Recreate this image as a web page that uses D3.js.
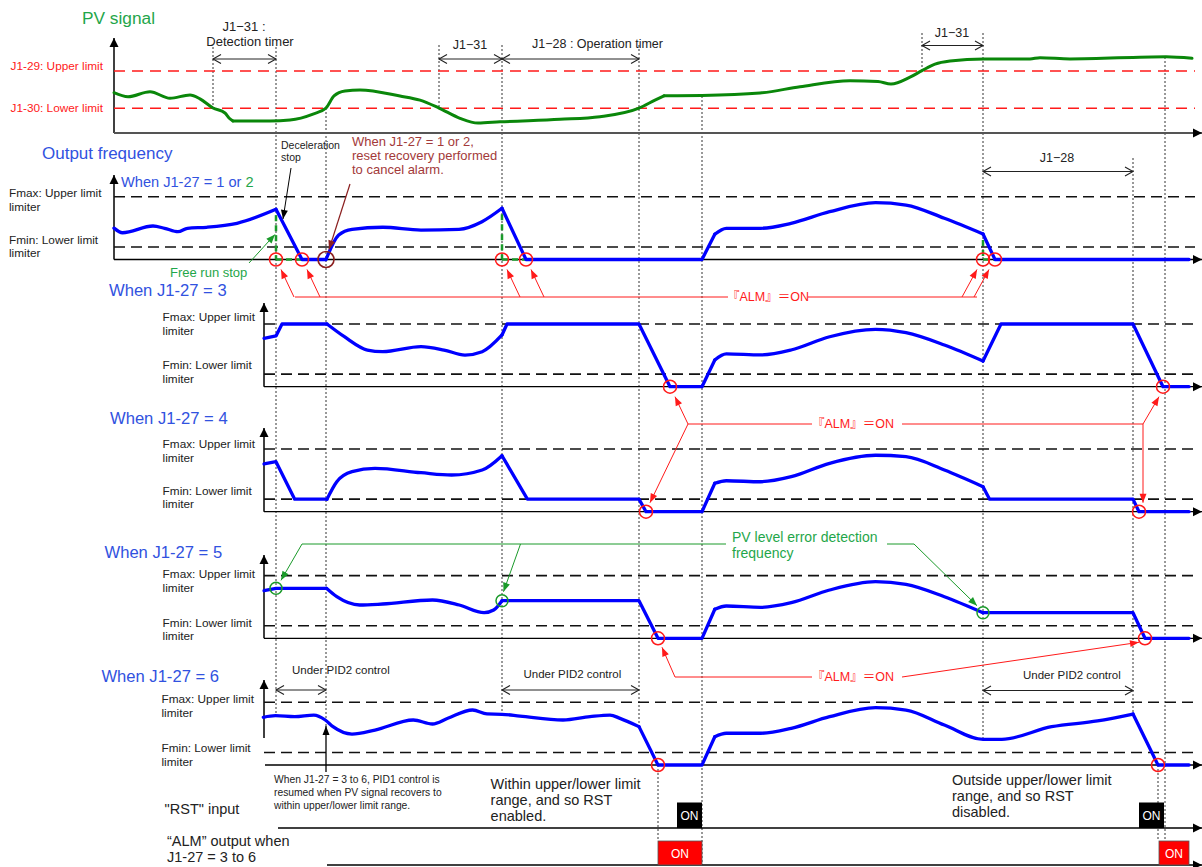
<!DOCTYPE html>
<html><head><meta charset="utf-8">
<script src="https://cdn.jsdelivr.net/npm/d3@7"></script>
<style>
body{margin:0;background:#fff}
svg{display:block}
text{font-family:"Liberation Sans",Arial,"Noto Sans CJK JP",sans-serif}
</style>
</head><body>
<svg id="c" width="1202" height="867"></svg>
<script>
// ================= DATA (time units, signal in %) =================
const timeDomain = [0, 1081];
// tA..tK : key instants of the sequence
const eventTimes = [99, 162, 212, 325, 388, 525, 588, 808, 869, 1019, 1051];
const pvLimitValues = [100, 40];      // J1-29 upper, J1-30 lower
const freqLimitValues = [100, 20];    // Fmax, Fmin
const pvLimitLabels = ["J1-29: Upper limit", "J1-30: Lower limit"];
const panelTitles = ["When J1-27 = 3", "When J1-27 = 4", "When J1-27 = 5", "When J1-27 = 6"];

const pvSignal = [
  ["S", [[0,65],[14,58.5],[36,66.6],[56,56],[76,61.3],[86,55],[99,40.3],[111,32.3],[115,24.2],[119,19.4]]],
  ["S", [[119,19.4],[156,19.4],[176,21],[199,30.6],[212,40.3],[220,59.7],[231,67.7],[246,69.4],[286,59.7],[306,53],[325,40.3],[346,23.7],[364,16],[386,18],[446,22],[486,26.3],[525,40],[541,53],[550,60]]],
  ["S", [[550,60],[588,60.5],[646,64.5],[686,74.7],[736,84.4],[764,83],[777,79],[796,90],[808,100.5],[821,111],[836,116],[870,119.4],[916,119.4],[926,121.5],[956,119.4],[1052,123],[1078,120.5]]]
];
const freq12 = [
  ["S", [[0,50],[8.5,42.7],[39,53.4],[50.6,49.8],[64,44.3],[73.5,49.8],[92.7,51.4],[123,57.7],[162,80]]],
  ["L", [[162,80],[188,0],[212,0]]],
  ["S", [[212,0],[224.7,39],[238,48.2],[268.7,51.4],[307,47],[345,48.2],[368,60.3],[388,81.7]]],
  ["L", [[388,81.7],[412,0],[588,0],[600.8,40.2]]],
  ["S", [[600.8,40.2],[612.3,49.8],[646.7,49.8],[677,57.7],[715.6,76.2],[761.5,90.6],[792,86.9],[830.4,65.7],[869,40.7]]],
  ["L", [[869,40.7],[881,0],[1075,0]]]
];
const freq3 = [
  ["L", [[150,77.2],[162,80.9],[168,100],[213,100]]],
  ["S", [[213,100],[230.4,79.7],[253.4,58.5],[268.7,55.8],[307,63.8],[330,58.5],[351,50.5],[368.2,55.8],[388,82.5]]],
  ["L", [[388,82.5],[393,100],[525,100],[556,0],[588,0],[600.8,42.6]]],
  ["S", [[600.8,42.6],[612.3,52.2],[646.7,50.6],[677,58.5],[715.6,79.7],[761.5,91.5],[792,86.1],[830.4,66.5],[869,41]]],
  ["L", [[869,41],[887,100],[1019,100],[1049,0],[1075,0]]]
];
const freq4 = [
  ["L", [[150,76.1],[162,79.7],[180.7,20],[213,20]]],
  ["S", [[213,20],[222.8,47.8],[238,63.8],[261,69.2],[307,62.2],[337.6,58.5],[368.2,66.5],[388,89.3]]],
  ["L", [[388,89.3],[413.4,20],[525,20],[532,0],[588,0],[600.8,45.3]]],
  ["S", [[600.8,45.3],[612.3,49.4],[646.7,47.8],[677.3,55.8],[715.6,77.2],[761.5,90],[792,87.7],[830.4,66.5],[869,39.9]]],
  ["L", [[869,39.9],[875.6,20],[1019,20],[1025,0],[1075,0]]]
];
const freq5 = [
  ["L", [[150,75.9],[162,79.7],[212.4,79.7]]],
  ["S", [[212.4,79.7],[222.8,66.3],[245.7,53.1],[268.7,54.7],[318.5,61.1],[345.2,53.1],[370.1,40.8],[379.7,45.1],[388,60]]],
  ["L", [[388,60],[525,60],[544,0],[588,0],[600.8,46.3]]],
  ["S", [[600.8,46.3],[612.3,51.5],[646.7,49.4],[677.3,56.8],[715.6,77],[761.5,90.3],[792,86.1],[830.4,66.3],[869,40.8]]],
  ["L", [[869,40.8],[1019,40.8],[1031,0],[1075,0]]]
];
const freq6 = [
  ["S", [[149.3,76.1],[161.5,78.6],[180.7,77],[199.8,79.7],[211.3,71.8],[219,61.1],[238,49.4],[261,55.8],[299.3,71.8],[318.5,65.4],[333.8,74.5],[358.6,87.7],[373,81.5],[388,80.9],[406,78.1],[449,71.8],[476,77.2],[496,79.7],[506,74.4],[525,61.2]]],
  ["L", [[525,61.2],[544,0],[588,0],[600.8,45.1]]],
  ["S", [[600.8,45.1],[612.3,50.6],[646.7,50.6],[677.3,58.5],[715.6,77],[761.5,91.4],[792,87.7],[830.4,63.8],[869,41],[887.8,41],[937.6,61.1],[983.5,70.2],[1019,81.3]]],
  ["L", [[1019,81.3],[1044,0],[1075,0]]]
];
const alarms12 = [[162,0],[188,0],[388,0],[412,0],[869,0],[881,0]];
const reset12 = [[212,0]];
const alarms3 = [[556,0],[1049,0]];
const alarms4 = [[532,0],[1025,0]];
const alarms5 = [[544,0],[1031,0]];
const detect5 = [[162,79.7],[388,60],[869,40.8]];
const alarms6 = [[544,0],[1044,0]];
const rstPulses = [[563,588],[1025,1050]];
const almPulses = [[544,588],[1045,1075]];

// ================= LAYOUT =================
const svg = d3.select("#c");
const x = d3.scaleLinear().domain(timeDomain).range([114, 1195]);
const pvY = d3.scaleLinear().domain([0,100]).range([133, 71]);
const axisYs = [259.5, 386.7, 511.7, 638.3, 765];
const fy = axisYs.map(a => d3.scaleLinear().domain([0,100]).range([a, a-62.7]));
const BLUE_T = "#3152e0", GREEN_T = "#1fa64a", RED = "#ff1a1a", DRED = "#a33a3a", INK = "#222";

const defs = svg.append("defs");
function marker(id, color, w, h, open){
  const m = defs.append("marker").attr("id", id).attr("viewBox", `0 0 ${w} ${h}`)
    .attr("refX", w).attr("refY", h/2).attr("markerWidth", w).attr("markerHeight", h)
    .attr("markerUnits","userSpaceOnUse").attr("orient","auto-start-reverse").style("overflow","visible");
  if(open) m.append("path").attr("d",`M0,0 L${w},${h/2} L0,${h}`).attr("fill","none").attr("stroke",color).attr("stroke-width",1.1);
  else m.append("path").attr("d",`M0,0 L${w},${h/2} L0,${h}Z`).attr("fill",color);
}
marker("ax","#000",9,9,false);
marker("ah-red",RED,9,7,false);
marker("ah-green","#1a9a2a",9,7,false);
marker("ah-black","#000",9,7,false);
marker("ah-dred","#8b1f1f",9,7,false);
marker("open","#222",8,9,true);

const g = svg.append("g");
function line(x1,y1,x2,y2,stroke,w,dash){
  const l = g.append("line").attr("x1",x1).attr("y1",y1).attr("x2",x2).attr("y2",y2)
    .attr("stroke",stroke).attr("stroke-width",w);
  if(dash) l.attr("stroke-dasharray",dash);
  return l;
}
function arrow(x1,y1,x2,y2,id,stroke,w){
  return line(x1,y1,x2,y2,stroke,w||1).attr("marker-end",`url(#${id})`);
}
function text(xx,yy,s,size,color,anchor){
  return g.append("text").attr("x",xx).attr("y",yy).attr("dy","0.35em").attr("font-size",size)
    .attr("fill",color||INK).attr("text-anchor",anchor||"start").text(s);
}
function timer(t1,t2,yy){
  line(x(t1),yy,x(t2),yy,"#222",1).attr("marker-start","url(#open)").attr("marker-end","url(#open)");
}
function curve(pieces, yS, color, w){
  pieces.forEach(([k,pts]) => {
    const gen = d3.line().x(d=>x(d[0])).y(d=>yS(d[1])).curve(k==="S"?d3.curveMonotoneX:d3.curveLinear);
    g.append("path").attr("d",gen(pts)).attr("fill","none").attr("stroke",color)
      .attr("stroke-width",w).attr("stroke-linejoin","round").attr("stroke-linecap","round");
  });
}
function circles(pts, yS, color, r, w){
  pts.forEach(d => g.append("circle").attr("cx",x(d[0])).attr("cy",yS(d[1])).attr("r",r)
    .attr("fill","none").attr("stroke",color).attr("stroke-width",w||1.5));
}

// ---------- guide (dotted) lines ----------
const [tA,tB,tC,tD,tE,tF,tG,tH,tI,tJ,tK] = eventTimes;
const guideSpans = [[tA,47,108],[tB,47,715],[tC,108,732],[tD,45,108],[tE,45,715],[tF,45,727],
  [tG,96,865],[tH,33,71],[tI,33,739],[tJ,158,714],[tK,57,865]];
guideSpans.forEach(([t,a,b]) => line(x(t),a,x(t),b,"#333",1,"2,2"));
[alarms6[0][0], alarms6[1][0]].forEach(t => line(x(t),765,x(t),841,"#333",1,"2,2"));

// ---------- PV panel ----------
text(82,18,"PV signal",17.3,GREEN_T);
line(114,133,114,38,"#000",1.5).attr("marker-end","url(#ax)");
line(114,133,1202,133,"#555",2).attr("marker-end","url(#ax)");
pvLimitValues.forEach((v,i) => {
  line(114,pvY(v),1195,pvY(v),RED,1.6,"11,7");
  text(103, i===0 ? pvY(v)-5 : pvY(v), pvLimitLabels[i], 11.8, RED, "end");
});
curve(pvSignal, pvY, "#0a870a", 3);
timer(tA,tB,59); timer(tD,tE,59); timer(tE,tF,59); timer(tH,tI,45.5);
text(244,26,"J1−31 :",13,INK,"middle");
text(250,41,"Detection timer",13,INK,"middle");
text(470,45,"J1−31",12.5,INK,"middle");
text(532,44,"J1−28 : Operation timer",12.5,INK);
text(952,33,"J1−31",12.5,INK,"middle");

// ---------- Output frequency panel (J1-27 = 1 or 2) ----------
text(42,153,"Output frequency",17,BLUE_T);
const sub = g.append("text").attr("x",121).attr("y",182).attr("dy","0.35em").attr("font-size",14.6).attr("fill",BLUE_T);
sub.append("tspan").text("When J1-27 = 1 or ");
sub.append("tspan").attr("fill",GREEN_T).text("2");

function limits(i, x0, lx, ly){
  freqLimitValues.forEach(v => line(x0, fy[i](v), 1195, fy[i](v), "#111", 1.6, "11,6"));
  text(lx, ly[0], "Fmax: Upper limit", 11.8);
  text(lx, ly[1], "limiter", 11.8);
  text(lx, ly[2], "Fmin: Lower limit", 11.8);
  text(lx, ly[3], "limiter", 11.8);
}
line(114,axisYs[0],114,175,"#000",1.5).attr("marker-end","url(#ax)");
line(114,axisYs[0],1202,axisYs[0],"#000",1.3).attr("marker-end","url(#ax)");
limits(0,114,9,[193,206.5,240,253]);
timer(tI,tJ,171.5);
text(1057,158,"J1−28",12.5,INK,"middle");
// free-run (green dashed)
[[tB,80],[tE,81.7],[tI,40.7]].forEach(([t,v]) => {
  line(x(t),fy[0](v)+6,x(t),fy[0](0),"#1a9a2a",2.5,"6,4");
});
[[tB,188],[tE,412],[tI,881]].forEach(([a,b]) => line(x(a),fy[0](0),x(b),fy[0](0),"#1a9a2a",2.5,"6,4"));
curve(freq12, fy[0], "#0000ff", 3.3);
circles(alarms12, fy[0], RED, 6.5);
circles(reset12, fy[0], "#8b1f1f", 8, 1.6);
text(281,145,"Deceleration",10.5);
text(281,157,"stop",10.5);
arrow(291,168,283,219,"ah-black","#000",1);
text(352,141,"When J1-27 = 1 or 2,",13,DRED);
text(352,155,"reset recovery performed",13,DRED);
text(352,169,"to cancel alarm.",13,DRED);
arrow(350,184,x(tC)+3,fy[0](0)-10,"ah-dred","#8b1f1f",1.2);
text(170,272,"Free run stop",13,GREEN_T);
arrow(249,263,x(tB)-1,fy[0](40),"ah-green","#1a9a2a",1);
// ALM = ON (panel 1)
const yA1 = 297;
line(x(alarms12[0][0])+19,yA1,728,yA1,RED,1);
line(808,yA1,x(alarms12[5][0])-18,yA1,RED,1);
text(768,yA1,"『ALM』＝ON",12.5,RED,"middle");
alarms12.slice(0,4).forEach(d => arrow(x(d[0])+18,yA1,x(d[0])+5,fy[0](0)+10,"ah-red",RED,1));
alarms12.slice(4).forEach(d => arrow(x(d[0])-21,yA1,x(d[0])-6,fy[0](0)+10,"ah-red",RED,1));

// ---------- panels 2..5 ----------
const titlePos = [[109,290],[110,418],[104.5,552],[101.4,676]];
const labelYs = [[316.7,331,365,379],[444,457.7,491,504.3],[574,588.3,623.3,636],[699.3,712.7,748.3,761.7]];
const tops = [303,428,555,680];
for(let k=0;k<4;k++){
  const i = k+1;
  text(titlePos[k][0],titlePos[k][1],panelTitles[k],16.6,BLUE_T);
  const yBottom = k===3 ? 738 : axisYs[i];
  line(x(150),yBottom,x(150),tops[k],"#000",1.5).attr("marker-end","url(#ax)");
  line(x(150)+(k===3?1:0),axisYs[i],1202,axisYs[i],"#000",1.3).attr("marker-end","url(#ax)");
  limits(i, x(150), k===3?161.5:162.6, labelYs[k]);
}
curve(freq3, fy[1], "#0000ff", 3.3);
curve(freq4, fy[2], "#0000ff", 3.3);
curve(freq5, fy[3], "#0000ff", 3.3);
curve(freq6, fy[4], "#0000ff", 3.3);
circles(alarms3, fy[1], RED, 6.5);
circles(alarms4, fy[2], RED, 6.5);
circles(alarms5, fy[3], RED, 6.5);
circles(detect5, fy[3], "#1a9a2a", 6);
circles(alarms6, fy[4], RED, 6.5);

// ALM = ON (panels 3 / 4)
const yA2 = 424;
line(688,yA2,812,yA2,RED,1);
line(902,yA2,x(alarms4[1][0])+4,yA2,RED,1);
text(853,yA2,"『ALM』＝ON",12.5,RED,"middle");
arrow(688,yA2,x(alarms3[0][0])+5,fy[1](0)+10,"ah-red",RED,1);
arrow(688,yA2,x(alarms4[0][0])+4,fy[2](0)-9,"ah-red",RED,1);
arrow(x(alarms4[1][0])+4,yA2,x(alarms3[1][0])-4,fy[1](0)+10,"ah-red",RED,1);
arrow(x(alarms4[1][0])+4,yA2,x(alarms4[1][0])+4,fy[2](0)-9,"ah-red",RED,1);

// PV level error detection frequency (panel 5)
const yG = 544;
line(302,yG,726,yG,"#1a9a2a",1);
line(887,yG,914,yG,"#1a9a2a",1);
text(732,537,"PV level error detection",14,GREEN_T);
text(732,553,"frequency",14,GREEN_T);
arrow(302,yG,x(detect5[0][0])+5,fy[3](detect5[0][1])-8,"ah-green","#1a9a2a",1);
arrow(520.5,yG,x(detect5[1][0])+1.5,fy[3](detect5[1][1])-9,"ah-green","#1a9a2a",1);
arrow(914,yG,x(detect5[2][0])-6,fy[3](detect5[2][1])-7,"ah-green","#1a9a2a",1);

// ALM = ON (panels 5 / 6)
const yA3 = 677;
line(675,yA3,812,yA3,RED,1);
text(853,yA3,"『ALM』＝ON",12.5,RED,"middle");
arrow(675,yA3,x(alarms5[0][0])+4,fy[3](0)+9,"ah-red",RED,1);
arrow(902,yA3,x(alarms5[1][0])-6,fy[3](0)+4,"ah-red",RED,1);

// ---------- J1-27 = 6 annotations ----------
timer(tB,tC,690); timer(tE,tF,690); timer(tI,tJ,690.5);
text(292,670,"Under PID2 control",11.5);
text(523.5,674,"Under PID2 control",11.5);
text(1023,675,"Under PID2 control",11.5);
arrow(x(tC),772,x(tC),726,"ah-black","#000",1.3);
text(274,779.3,"When J1-27 = 3 to 6, PID1 control is",10.3);
text(274,792.7,"resumed when PV signal recovers to",10.3);
text(274,805,"within upper/lower limit range.",10.3);
text(490.6,784,"Within upper/lower limit",14.5);
text(490.6,800,"range, and so RST",14.5);
text(490.6,815.5,"enabled.",14.5);
text(952,780,"Outside upper/lower limit",14.5);
text(952,796,"range, and so RST",14.5);
text(952,812,"disabled.",14.5);

// ---------- RST input / ALM output ----------
text(164.6,809,"\"RST\" input",14.5);
text(167,841,"“ALM” output when",14.5);
text(167,857,"J1-27 = 3 to 6",14.5);
const yR = 828, yL = 865;
line(278,yR,1202,yR,"#000",1.4).attr("marker-end","url(#ax)");
line(327,yL,1202,yL,"#000",1.4).attr("marker-end","url(#ax)");
rstPulses.forEach(([a,b]) => {
  g.append("rect").attr("x",x(a)).attr("y",yR-25.5).attr("width",x(b)-x(a)).attr("height",25.5).attr("fill","#000");
  text((x(a)+x(b))/2,yR-12.5,"ON",12,"#fff","middle");
});
almPulses.forEach(([a,b]) => {
  g.append("rect").attr("x",x(a)).attr("y",yL-24).attr("width",x(b)-x(a)).attr("height",24)
    .attr("fill","#ff0000").attr("stroke","#555").attr("stroke-width",0.8);
  text((x(a)+x(b))/2,yL-11.5,"ON",12,"#fff","middle");
});
</script>
</body></html>
